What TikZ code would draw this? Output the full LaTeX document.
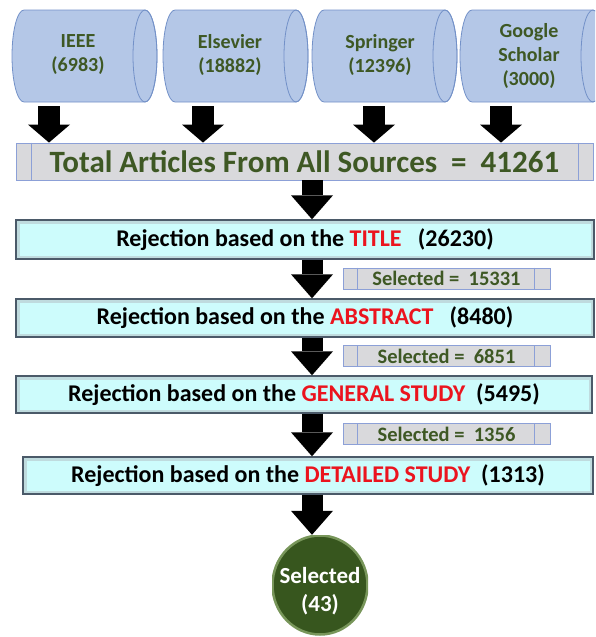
\documentclass[tikz,border=0pt]{standalone}
\usepackage{fontspec}
\setmainfont{Carlito}
\usetikzlibrary{arrows.meta,shapes.geometric,calc}
\definecolor{cylfill}{RGB}{180,199,231}
\definecolor{cyldraw}{RGB}{115,145,200}
\definecolor{txtgreen}{RGB}{62,88,36}
\definecolor{boxgray}{RGB}{217,217,220}
\definecolor{boxedge}{RGB}{140,160,215}
\definecolor{rejfill}{RGB}{205,252,252}
\definecolor{rejedge}{RGB}{75,90,105}
\definecolor{rejred}{RGB}{235,20,30}
\definecolor{circfill}{RGB}{55,86,30}
\definecolor{circedge}{RGB}{120,150,90}
\newcommand\mycyl[1]{%
  \filldraw[fill=cylfill, draw=cyldraw, line width=0.8] (#1,-10) -- ++(121,0)
    arc[start angle=90,end angle=-90,x radius=12,y radius=46] -- ++(-121,0)
    arc[start angle=270,end angle=90,x radius=12,y radius=46] -- cycle;
  \draw[cyldraw, line width=0.8] (#1+121,-56) ellipse[x radius=12,y radius=46];}
\tikzset{
  cyltext/.style={font=\fontsize{20}{24}\selectfont\bfseries, text=txtgreen, align=center, inner sep=0pt},
  graybox/.style={draw=boxedge, line width=0.8, fill=boxgray, inner sep=0pt, text=txtgreen},
  rejbox/.style={draw=rejedge, line width=1.4, fill=rejfill, inner sep=0pt,
    font=\fontsize{24}{28}\selectfont\bfseries,
    path picture={\draw[line width=7pt, rejedge!45, opacity=0.45]
      (path picture bounding box.south west) rectangle (path picture bounding box.north east);}},
  circnode/.style={minimum width=96, minimum height=100, inner sep=0pt,
    path picture={\filldraw[fill=circfill, draw=circedge, line width=2.5]
      (path picture bounding box.center) ellipse[x radius=47.5, y radius=49.5];}},
  circtext/.style={text=white, align=center, inner sep=0pt, font=\fontsize{23}{28}\selectfont\bfseries},
  srcarrow/.style={line width=22pt, black, -{Triangle[width=42pt 0, length=18pt 0, line width=0pt]}},
  midarrow/.style={line width=21pt, black, -{Triangle[width=42pt 0, length=24pt 0, line width=0pt]}},
}
\begin{document}
\begin{tikzpicture}[x=1pt,y=1pt]
\useasboundingbox (0,0) rectangle (595,-637);
\begin{scope}
\clip (0,0) rectangle (595,-637);
% cylinders
\mycyl{24}
\mycyl{175}
\mycyl{324}
\mycyl{472}
\end{scope}
\node[cyltext] (ieee) at (78,-55) {IEEE\\(6983)};
\node[cyltext] (els) at (230,-55) {Elsevier\\(18882)};
\node[cyltext] (spr) at (380,-55) {Springer\\(12396)};
\node[cyltext] (ggl) at (529,-56) {Google\\Scholar\\(3000)};
% total box
\node[graybox, minimum width=577, minimum height=37, font=\fontsize{31}{34}\selectfont\bfseries] (total) at (304.5,-161.5)
  {Total Articles From All Sources\ \ =\ \ 41261};
\draw[boxedge, line width=0.8] ($(total.north west)+(16,0)$) -- ($(total.south west)+(16,0)$);
\draw[boxedge, line width=0.8] ($(total.north east)+(-15,0)$) -- ($(total.south east)+(-15,0)$);
% source arrows
\coordinate (c1) at (49,-106);
\coordinate (c2) at (203,-106);
\coordinate (c3) at (374,-106);
\coordinate (c4) at (501,-106);
\draw[srcarrow] (c1) -- (c1 |- total.north);
\draw[srcarrow] (c2) -- (c2 |- total.north);
\draw[srcarrow] (c3) -- (c3 |- total.north);
\draw[srcarrow] (c4) -- (c4 |- total.north);
% rejection boxes
\node[rejbox, minimum width=578, minimum height=39] (title) at (305,-239.5)
  {Rejection based on the \textcolor{rejred}{TITLE}\ \ \ (26230)};
\node[rejbox, minimum width=578, minimum height=38] (abs) at (305,-318)
  {Rejection based on the \textcolor{rejred}{ABSTRACT}\ \ \ (8480)};
\node[rejbox, minimum width=576, minimum height=37] (gen) at (304,-394.5)
  {Rejection based on the \textcolor{rejred}{GENERAL STUDY}\ \ (5495)};
\node[rejbox, minimum width=570, minimum height=37] (det) at (308,-475.5)
  {Rejection based on the \textcolor{rejred}{DETAILED STUDY}\ \ (1313)};
% selected boxes
\foreach \nm/\yy/\val in {s1/-278.5/15331, s2/-356/6851, s3/-434/1356}{
  \node[graybox, minimum width=207, minimum height=21, font=\fontsize{20.5}{22}\selectfont\bfseries] (\nm) at (446.5,\yy) {Selected =\ \ \val};
  \draw[boxedge, line width=0.8] ($(\nm.north west)+(15,0)$) -- ($(\nm.south west)+(15,0)$);
  \draw[boxedge, line width=0.8] ($(\nm.north east)+(-16,0)$) -- ($(\nm.south east)+(-16,0)$);
}
% final circle
\node[circnode] (circ) at (320,-585) {};
\node[circtext] (circt) at (320,-591) {Selected\\(43)};
% middle arrows
\coordinate (m) at (312,0);
\draw[midarrow] (total.south -| m) -- (title.north -| m);
\draw[midarrow] (title.south -| m) -- (abs.north -| m);
\draw[midarrow] (abs.south -| m) -- (gen.north -| m);
\draw[midarrow] (gen.south -| m) -- (det.north -| m);
\draw[midarrow] (det.south -| m) -- (circ.north -| m);
\end{tikzpicture}
\end{document}
